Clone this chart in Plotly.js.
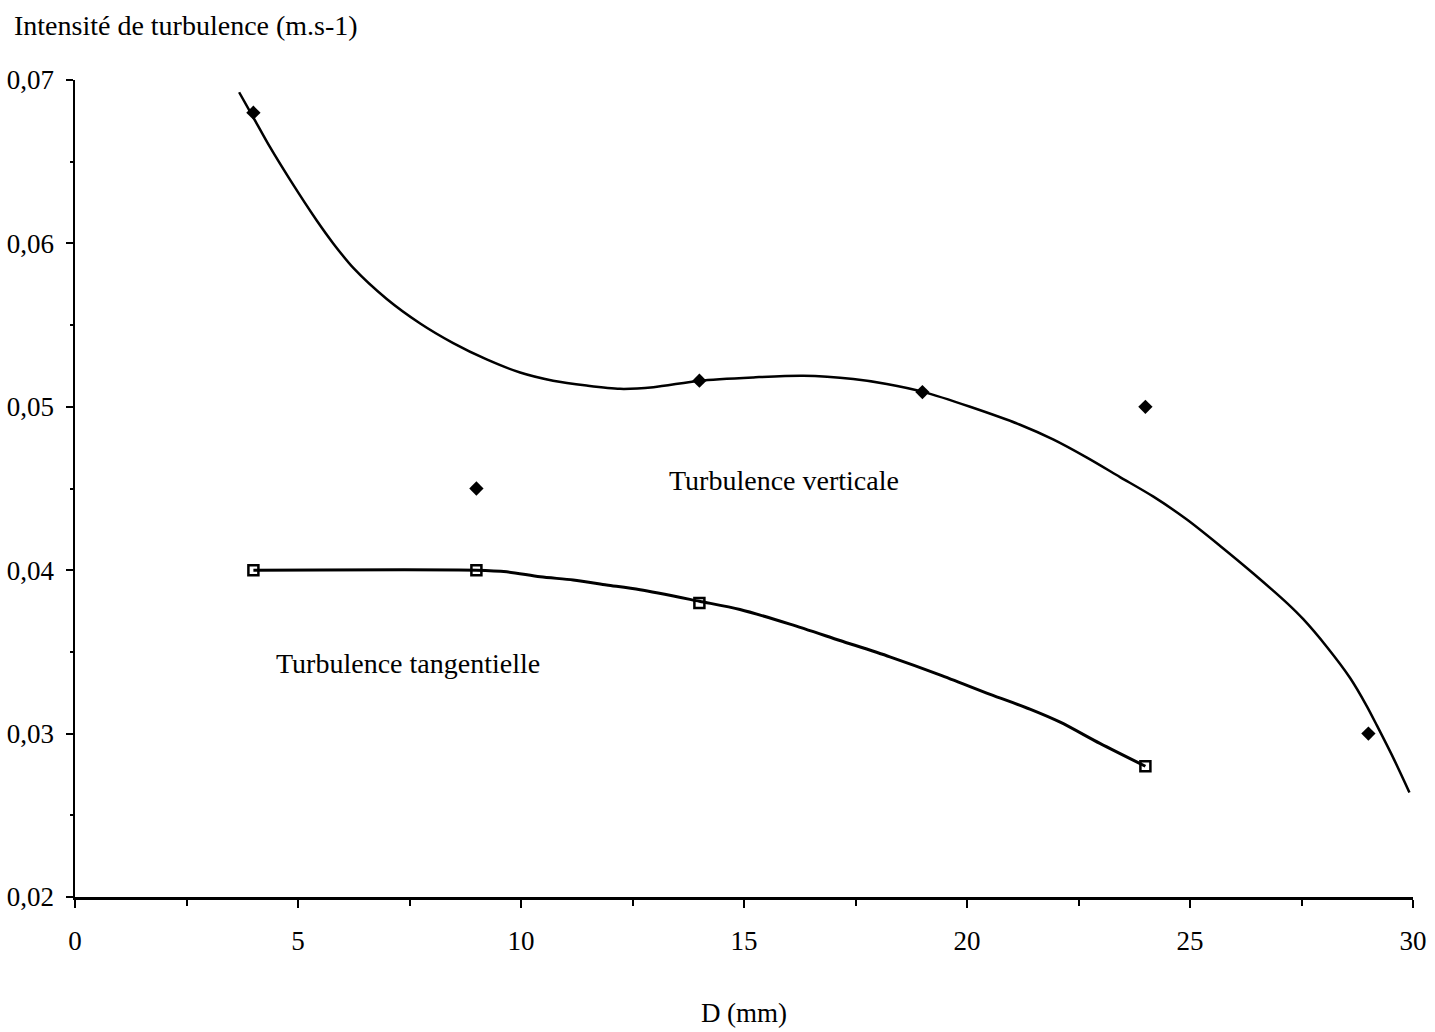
<!DOCTYPE html>
<html>
<head>
<meta charset="utf-8">
<script src="https://cdn.plot.ly/plotly-3.0.1.min.js"></script>
<style>html,body{margin:0;padding:0;background:#fff;}#chart{width:1435px;height:1032px;}</style>
</head>
<body>
<div id="chart"></div>
<script>
// Measured points
const vertX = [4, 9, 14, 19, 24, 29];
const vertY = [0.068, 0.045, 0.0516, 0.0509, 0.050, 0.030];
const tangX = [4, 9, 14, 24];
const tangY = [0.040, 0.040, 0.038, 0.028];

// Fitted curves
const vertCurveX = [3.68, 4.0, 4.37, 4.82, 5.42, 5.79, 6.24, 6.99, 7.74, 8.48, 9.23, 9.98, 10.72, 11.47, 12.22, 12.97, 14.0, 15.21, 16.33, 17.45, 18.2, 19.04, 20.07, 21.19, 21.93, 22.68, 23.43, 24.18, 24.93, 25.67, 26.42, 27.17, 27.54, 28.07, 28.59, 28.96, 29.19, 29.56, 29.92];
const vertCurveY = [0.06925, 0.0677, 0.0659, 0.0639, 0.0614, 0.0600, 0.0585, 0.0566, 0.0551, 0.0539, 0.0529, 0.0521, 0.0516, 0.0513, 0.0511, 0.0512, 0.0516, 0.0518, 0.0519, 0.0517, 0.0514, 0.0509, 0.0500, 0.0489, 0.0480, 0.0469, 0.0457, 0.0445, 0.0431, 0.0415, 0.0398, 0.0380, 0.0370, 0.0353, 0.0334, 0.0317, 0.0305, 0.0285, 0.0264];
const tangCurveX = [4, 9, 9.68, 10.43, 11.17, 11.92, 12.67, 14.0, 14.91, 16.03, 17.15, 18.27, 19.39, 20.52, 21.41, 22.09, 22.98, 24.0];
const tangCurveY = [0.040, 0.040, 0.0399, 0.0396, 0.0394, 0.0391, 0.0388, 0.0381, 0.0376, 0.0367, 0.0357, 0.0347, 0.0336, 0.0324, 0.0315, 0.0307, 0.0294, 0.0280];

// Text
const titleText = "Intensité de turbulence (m.s-1)";
const xTitle = "D (mm)";
const labelVert = "Turbulence verticale";
const labelTang = "Turbulence tangentielle";
const labelVertPos = [15.89, 0.0455];
const labelTangPos = [7.46, 0.0343];

const FONT = "Liberation Serif, Times New Roman, serif";

const traces = [
  {x: vertCurveX, y: vertCurveY, mode: 'lines', line: {color: '#000', width: 2.5, shape: 'spline', smoothing: 0.8}, hoverinfo: 'skip', showlegend: false},
  {x: tangCurveX, y: tangCurveY, mode: 'lines', line: {color: '#000', width: 3, shape: 'spline', smoothing: 0.8}, hoverinfo: 'skip', showlegend: false},
  {x: vertX, y: vertY, mode: 'markers', marker: {symbol: 'diamond', size: 11, color: '#000'}, showlegend: false},
  {x: tangX, y: tangY, mode: 'markers', marker: {symbol: 'square-open', size: 10, color: '#000', line: {width: 2.5, color: '#000'}}, showlegend: false}
];

const layout = {
  width: 1435, height: 1032,
  margin: {l: 75, r: 22, t: 80, b: 135},
  paper_bgcolor: '#fff', plot_bgcolor: '#fff',
  separators: ', ',
  font: {family: FONT, size: 26, color: '#000'},
  showlegend: false,
  title: {text: titleText, x: 14/1435, xref: 'container', xanchor: 'left', y: 1 - 25/1032, yref: 'container', yanchor: 'middle', font: {family: FONT, size: 28, color: '#000'}},
  xaxis: {
    range: [0, 30], tick0: 0, dtick: 5, showgrid: false, zeroline: false,
    showline: true, linecolor: '#000', linewidth: 3,
    ticks: 'outside', ticklen: 8, tickwidth: 2, tickcolor: '#000',
    ticklabelstandoff: 10,
    minor: {dtick: 2.5, ticks: 'outside', ticklen: 6, tickwidth: 2, tickcolor: '#000', showgrid: false},
    tickfont: {family: FONT, size: 27, color: '#000'},
    title: {text: xTitle, standoff: 48, font: {family: FONT, size: 27, color: '#000'}}
  },
  yaxis: {
    range: [0.02, 0.07], tick0: 0.02, dtick: 0.01, tickformat: '.2f', showgrid: false, zeroline: false,
    showline: true, linecolor: '#000', linewidth: 2.5,
    ticks: 'outside', ticklen: 7, tickwidth: 2, tickcolor: '#000',
    ticklabelstandoff: 6,
    minor: {dtick: 0.005, ticks: 'outside', ticklen: 3, tickwidth: 2, tickcolor: '#000', showgrid: false},
    tickfont: {family: FONT, size: 27, color: '#000'}
  },
  annotations: [
    {x: labelVertPos[0], y: labelVertPos[1], xref: 'x', yref: 'y', text: labelVert, showarrow: false, font: {family: FONT, size: 28, color: '#000'}},
    {x: labelTangPos[0], y: labelTangPos[1], xref: 'x', yref: 'y', text: labelTang, showarrow: false, font: {family: FONT, size: 28, color: '#000'}}
  ]
};

Plotly.newPlot('chart', traces, layout, {displayModeBar: false, staticPlot: true});
</script>
</body>
</html>
